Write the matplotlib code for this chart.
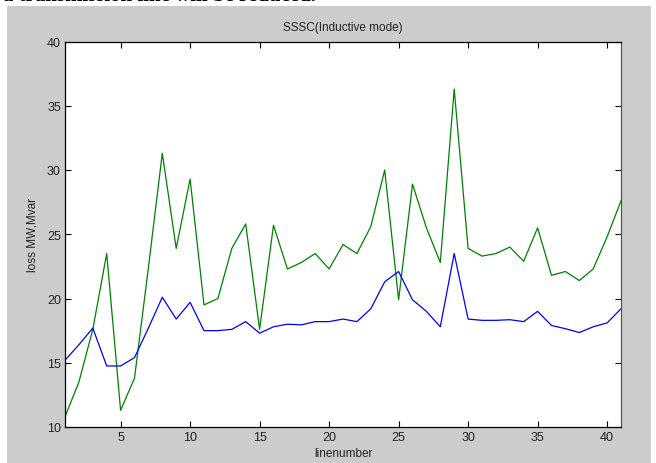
import matplotlib
matplotlib.use('Agg')
import matplotlib.pyplot as plt
import matplotlib.patches as patches

# line numbers and losses (MW,Mvar)
line_number = list(range(1, 42))
loss_green = [10.8, 13.5, 17.6, 23.5, 11.3, 13.8, 22.4, 31.3, 23.9, 29.3,
              19.5, 20.0, 23.9, 25.8, 17.6, 25.7, 22.3, 22.8, 23.5, 22.3,
              24.2, 23.5, 25.6, 30.0, 19.9, 28.9, 25.5, 22.8, 36.3, 23.9,
              23.3, 23.5, 24.0, 22.9, 25.5, 21.8, 22.1, 21.4, 22.3, 24.8,
              27.6]
loss_blue = [15.2, 16.4, 17.7, 14.75, 14.75, 15.4, 17.7, 20.1, 18.4, 19.7,
             17.5, 17.5, 17.6, 18.2, 17.3, 17.8, 18.0, 17.95, 18.2, 18.2,
             18.4, 18.2, 19.2, 21.3, 22.1, 19.9, 19.0, 17.8, 23.5, 18.4,
             18.3, 18.3, 18.35, 18.2, 19.0, 17.9, 17.65, 17.35, 17.8, 18.1,
             19.2]

fig = plt.figure(figsize=(6.56, 4.64), dpi=100)
fig.patch.set_facecolor('white')

# gray matlab figure panel under the page text
panel = patches.Rectangle((7 / 656, 0), 644 / 656, 457 / 464,
                          transform=fig.transFigure,
                          facecolor='#cccccc', edgecolor='none', zorder=-5)
fig.patches.append(panel)
# cut off line of page text above the figure (only its lower edge shows)
fig.text(3 / 656, 463 / 464, 'a transmission line will be reduced.', fontsize=15,
         fontweight='bold', family='Liberation Serif', va='baseline', ha='left')

ax = fig.add_axes([65 / 656, 36 / 464, 556 / 656, 385.5 / 464])
ax.set_zorder(1)
ax.set_facecolor('white')
ax.plot(line_number, loss_green, color='#008000', linewidth=0.9)
ax.plot(line_number, loss_blue, color='#0000ff', linewidth=0.9)

ax.set_xlim(1, 41)
ax.set_ylim(10, 40)
ax.set_xticks(range(5, 41, 5))
ax.set_yticks(range(10, 41, 5))
ax.tick_params(direction='in', top=True, right=True, length=4, width=0.8,
               labelsize=9, labelcolor='#222222', pad=3)
for s in ax.spines.values():
    s.set_linewidth(0.9)
ax.spines['right'].set_color('#555555')

ax.set_title('SSSC(Inductive mode)', fontsize=8.5, family='Liberation Sans',
             color='#222222', pad=8)
ax.set_xlabel('linenumber', fontsize=8.5, family='Liberation Sans',
              color='#222222', labelpad=3)
ax.set_ylabel('loss MW,Mvar', fontsize=8.5, family='Liberation Sans',
              color='#222222', labelpad=6)
for lab in ax.get_xticklabels() + ax.get_yticklabels():
    lab.set_family('Liberation Sans')

fig.savefig('out.png', dpi=100, facecolor=fig.get_facecolor())
